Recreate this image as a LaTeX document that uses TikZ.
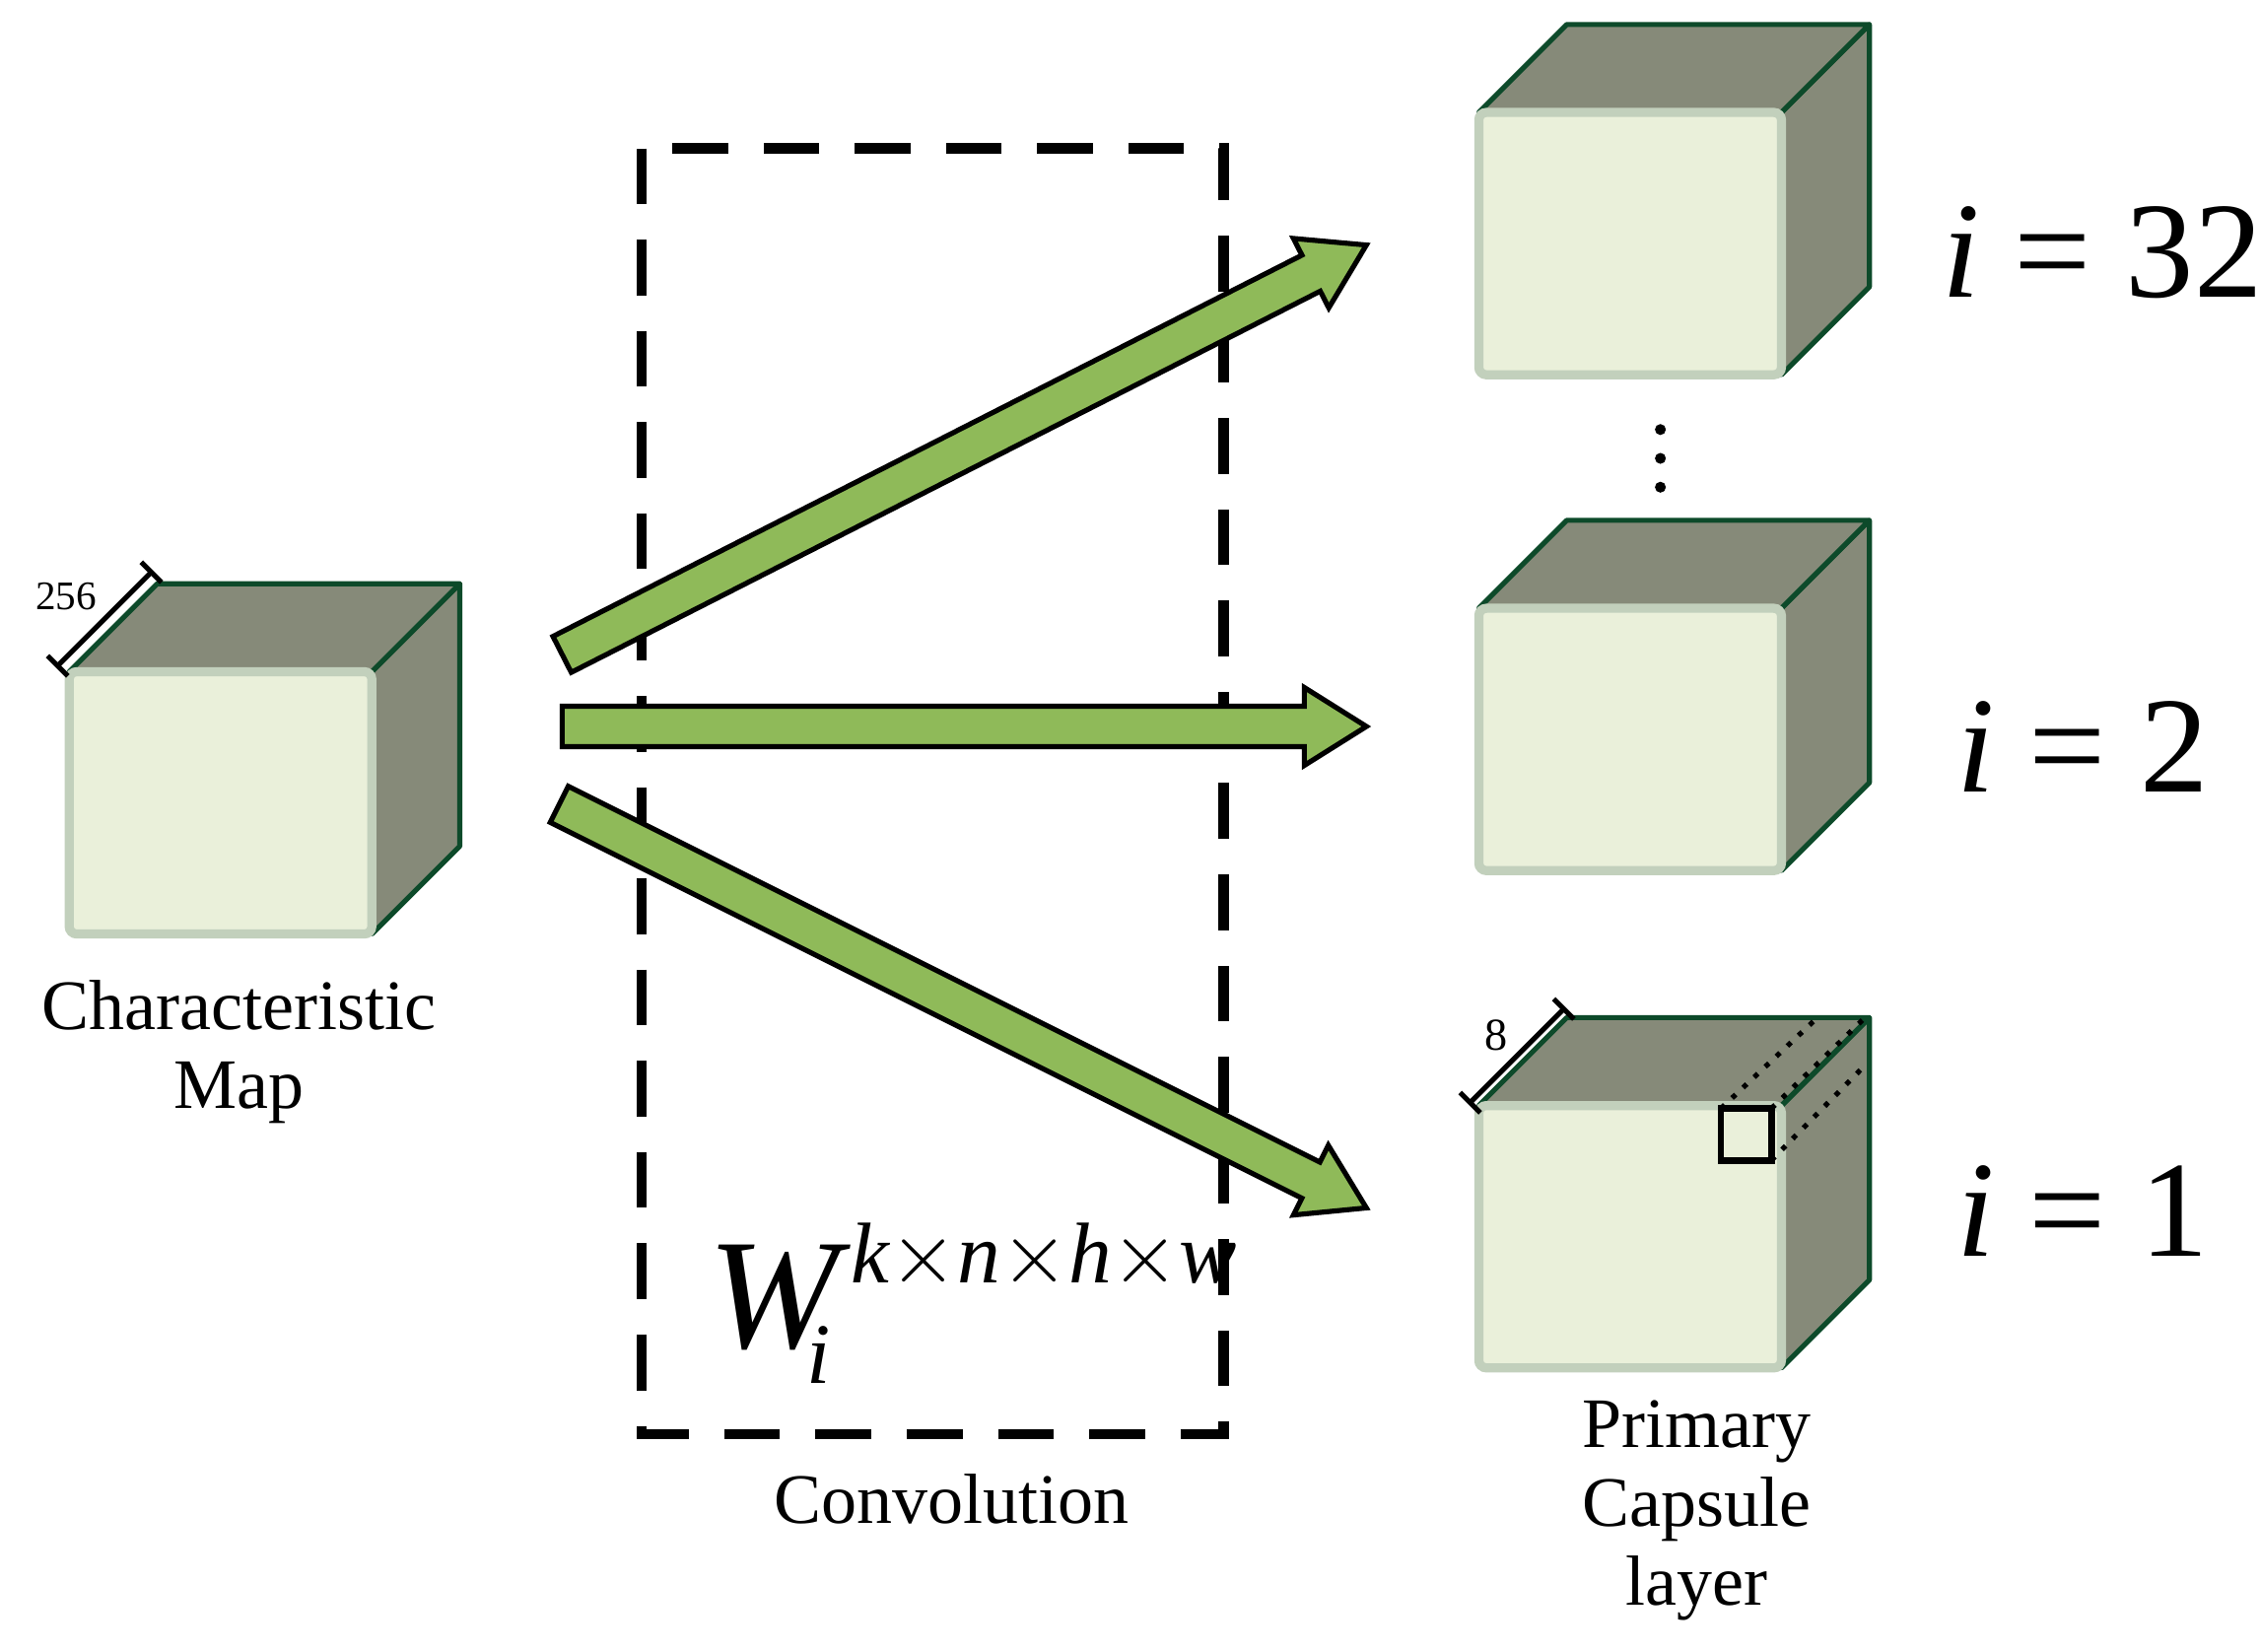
\documentclass[tikz,border=0pt]{standalone}
\usepackage{fontspec}
\setmainfont{Liberation Serif}
\usetikzlibrary{calc}
\definecolor{frontc}{HTML}{EAF0DA}
\definecolor{glow}{HTML}{C2D0BC}
\definecolor{sidec}{HTML}{868A79}
\definecolor{edgec}{HTML}{0D4A2A}
\definecolor{arrowc}{HTML}{8FBA59}
\tikzset{
  side/.style={fill=sidec,draw=edgec,line width=1pt,line join=round},
  front/.style={fill=frontc,draw=glow,line width=1.8pt,rounded corners=1.5pt},
  garrow/.style={fill=arrowc,draw=black,line width=1pt,line join=miter},
  lbl/.style={font=\fontsize{14}{15.5}\selectfont,align=center},
  big/.style={font=\fontsize{27}{29}\selectfont,anchor=west},
  dim/.style={line width=1pt}
}
\newcommand\mycube[2]{% top-left corner of front face (x,y)
  \draw[side] (#1+210,#2) -- (#1+271,#2-61) -- (#1+271,#2+121) -- (#1+210,#2+182) -- cycle;
  \draw[side] (#1,#2) -- (#1+61,#2-61) -- (#1+271,#2-61) -- (#1+210,#2) -- cycle;
  \draw[front] (#1,#2) rectangle (#1+210,#2+182);
}
\newcommand\garr[2]{%
  \path ($(#2)!0.43cm!(#1)$) coordinate (H);
  \draw[garrow] ($(#1)!0.14cm!90:(#2)$) -- ($(H)!0.14cm!90:(#2)$) -- ($(H)!0.27cm!90:(#2)$) -- (#2)
    -- ($(H)!0.27cm!-90:(#2)$) -- ($(H)!0.14cm!-90:(#2)$) -- ($(#1)!0.14cm!-90:(#2)$) -- cycle;
}
\begin{document}
\begin{tikzpicture}[x=0.01cm,y=-0.01cm]
\useasboundingbox (0,0) rectangle (1568,1146);
% dashed box
\draw[line width=2pt,dash pattern=on 11pt off 7pt] (445,103) rectangle (849,995);
% cubes
\mycube{48}{466}
\mycube{1026}{78}
\mycube{1026}{422}
\mycube{1026}{767}
% arrows
\coordinate (t1) at (390,454); \coordinate (h1) at (948,170);
\coordinate (t2) at (390,504); \coordinate (h2) at (948,504);
\coordinate (t3) at (388,558); \coordinate (h3) at (948,838);
\garr{t1}{h1}
\garr{t2}{h2}
\garr{t3}{h3}
% small square and dotted lines
\draw[dotted,line width=1pt] (1194,769) -- (1262,705);
\draw[dotted,line width=1pt] (1229,769) -- (1295,705);
\draw[dotted,line width=1pt] (1229,805) -- (1295,738);
\draw[line width=1.3pt,fill=frontc] (1194,769) rectangle (1229,805);
% dimension lines
\draw[dim] (40,462) -- (105,397);
\draw[dim] (33,455) -- (47,469);
\draw[dim] (98,390) -- (112,404);
\node[font=\fontsize{8}{9}\selectfont] (n256) at (46,414) {256};
\draw[dim] (1020,765) -- (1085,700);
\draw[dim] (1013,758) -- (1027,772);
\draw[dim] (1078,693) -- (1092,707);
\node[font=\fontsize{9}{10}\selectfont] (n8) at (1038,718) {8};
% dots
\foreach \yy in {298,318,338} \fill (1152,\yy) circle (3.8);
% labels
\node[lbl] (cm) at (166,730) {Characteristic\\Map};
\node[lbl] (conv) at (660,1040) {Convolution};
\node[lbl] (pc) at (1177,1048) {Primary\\Capsule\\layer};
\node[big] (i32) at (1335,175) {\textit{i} = 32};
\node[big] (i2) at (1345,518) {\textit{i} = 2};
\node[big] (i1) at (1345,840) {\textit{i} = 1};
\node[font=\fontsize{31}{33}\selectfont\itshape] (W) at (537,900) {W};
\node[font=\fontsize{17}{19}\selectfont\itshape] (Wsub) at (568,940) {i};
\node[font=\fontsize{17}{19}\selectfont\itshape,anchor=west] (Wsup) at (578,872) {k$\times$n$\times$h$\times$w};
\end{tikzpicture}
\end{document}
